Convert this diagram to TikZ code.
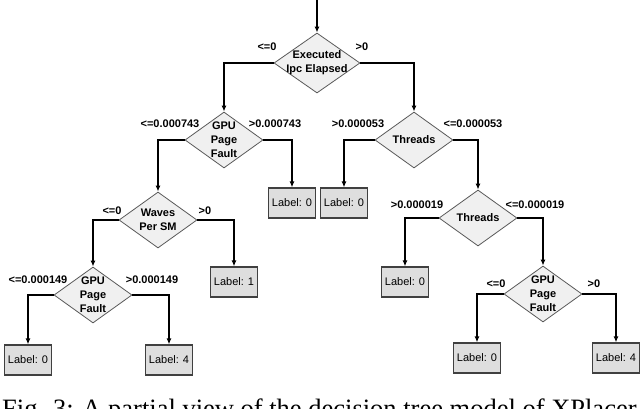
\documentclass[tikz,border=0pt]{standalone}
\usepackage{fontspec}
\setmainfont{Liberation Sans}
\newfontfamily\capfont{Liberation Serif}
\usetikzlibrary{shapes.geometric,arrows.meta}
\tikzset{
  decision/.style={diamond,draw=black!65,fill=black!6,line width=0.8pt,inner sep=0pt,minimum width=78pt,minimum height=56pt},
  dtext/.style={font=\bfseries\fontsize{11}{14}\selectfont,align=center,inner sep=0pt},
  leaf/.style={rectangle,draw=black!75,fill=black!13,line width=1.2pt,minimum width=47pt,minimum height=30pt,inner sep=0pt,font=\fontsize{11}{13}\selectfont},
  branch/.style={font=\bfseries\fontsize{11}{13}\selectfont,inner sep=0pt},
  conn/.style={line width=1.6pt,-{Latex[length=6pt,width=5pt]}},
}
\begin{document}
\begin{tikzpicture}[x=1pt,y=-1pt]
  \useasboundingbox (0,0) rectangle (640,409);
  % Nodos de decision
  \node[decision,minimum width=86pt,minimum height=60pt,label={[dtext]center:{Executed\\Ipc Elapsed}}] (exec) at (317,63) {};
  \node[decision,label={[dtext]center:{GPU\\Page\\Fault}}] (gpuA) at (224,140) {};
  \node[decision,label={[dtext]center:{Threads}}] (thrA) at (414,140) {};
  \node[decision,label={[dtext]center:{Waves\\Per SM}}] (waves) at (158,220) {};
  \node[decision,label={[dtext]center:{Threads}}] (thrB) at (478,218) {};
  \node[decision,label={[dtext]center:{GPU\\Page\\Fault}}] (gpuB) at (93,295) {};
  \node[decision,label={[dtext]center:{GPU\\Page\\Fault}}] (gpuC) at (543,294) {};
  % Hojas
  \node[leaf] (leafA) at (292,203) {Label: 0};
  \node[leaf] (leafB) at (344,203) {Label: 0};
  \node[leaf] (leafC) at (234,282) {Label: 1};
  \node[leaf] (leafD) at (405,282) {Label: 0};
  \node[leaf] (leafE) at (28,360) {Label: 0};
  \node[leaf] (leafF) at (169,360) {Label: 4};
  \node[leaf] (leafG) at (477,358) {Label: 0};
  \node[leaf] (leafH) at (616,358) {Label: 4};
  % Conectores
  \coordinate (top) at (317,0);
  \draw[conn] (top) -- (exec.north);
  \draw[conn] (exec.west) -| (gpuA.north);
  \draw[conn] (exec.east) -| (thrA.north);
  \draw[conn] (gpuA.west) -| (waves.north);
  \draw[conn] (gpuA.east) -| (leafA.north);
  \draw[conn] (thrA.west) -| (leafB.north);
  \draw[conn] (thrA.east) -| (thrB.north);
  \draw[conn] (waves.west) -| (gpuB.north);
  \draw[conn] (waves.east) -| (leafC.north);
  \draw[conn] (thrB.west) -| (leafD.north);
  \draw[conn] (thrB.east) -| (gpuC.north);
  \draw[conn] (gpuB.west) -| (leafE.north);
  \draw[conn] (gpuB.east) -| (leafF.north);
  \draw[conn] (gpuC.west) -| (leafG.north);
  \draw[conn] (gpuC.east) -| (leafH.north);
  % Etiquetas de rama
  \node[branch] (execL) at (267,47) {<=0};
  \node[branch] (execR) at (362,47) {>0};
  \node[branch] (gpuAL) at (170,124) {<=0.000743};
  \node[branch] (gpuAR) at (275,124) {>0.000743};
  \node[branch] (thrAL) at (358,124) {>0.000053};
  \node[branch] (thrAR) at (473,124) {<=0.000053};
  \node[branch] (wavesL) at (112,211) {<=0};
  \node[branch] (wavesR) at (205,211) {>0};
  \node[branch] (thrBL) at (417,205) {>0.000019};
  \node[branch] (thrBR) at (535,205) {<=0.000019};
  \node[branch] (gpuBL) at (38,280) {<=0.000149};
  \node[branch] (gpuBR) at (152,280) {>0.000149};
  \node[branch] (gpuCL) at (496,284) {<=0};
  \node[branch] (gpuCR) at (594,284) {>0};
  % Pie de figura (cortado)
  \node[anchor=base west,inner sep=0pt,font=\capfont\fontsize{26.5}{30}\selectfont] (caption) at (2,417) {Fig. 3: A partial view of the decision tree model of XPlacer};
\end{tikzpicture}
\end{document}
